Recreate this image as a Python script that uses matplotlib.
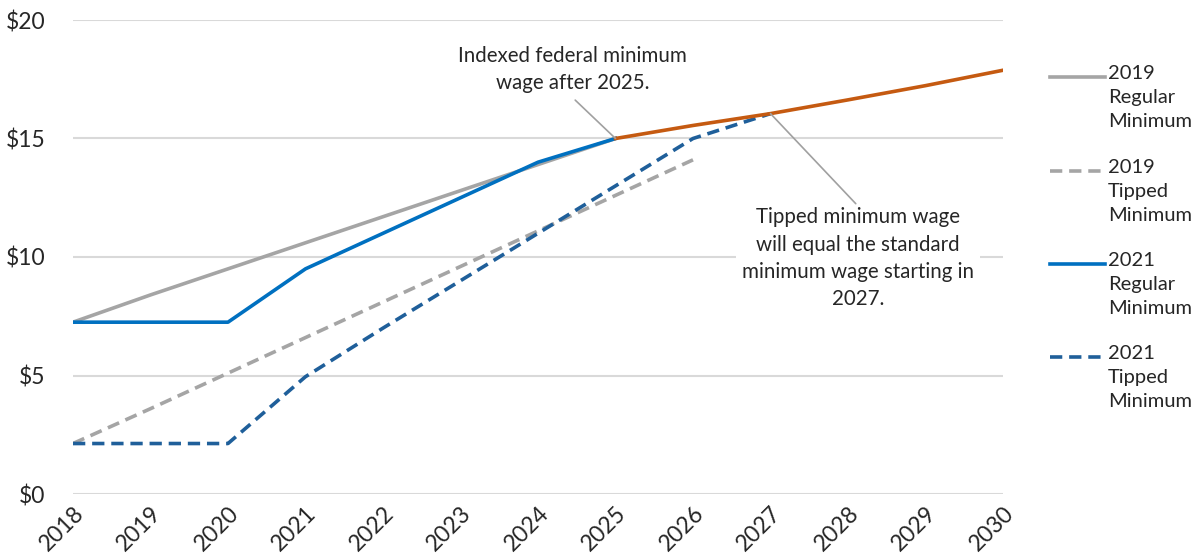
import matplotlib
matplotlib.use("Agg")
import matplotlib.pyplot as plt
from matplotlib.lines import Line2D

# ---- data ----
years = list(range(2018, 2031))
reg_2019_years = list(range(2018, 2026))
reg_2019 = [7.25, 8.40, 9.50, 10.60, 11.70, 12.80, 13.90, 15.00]
tip_2019_years = list(range(2018, 2027))
tip_2019 = [2.13, 3.60, 5.10, 6.60, 8.10, 9.60, 11.10, 12.60, 14.10]
reg_2021_years = list(range(2018, 2026))
reg_2021 = [7.25, 7.25, 7.25, 9.50, 11.00, 12.50, 14.00, 15.00]
tip_2021_years = list(range(2018, 2028))
tip_2021 = [2.13, 2.13, 2.13, 4.95, 7.00, 9.00, 11.00, 13.00, 15.00, 16.05]
indexed_years = list(range(2025, 2031))
indexed = [15.00, 15.55, 16.05, 16.63, 17.23, 17.88]
yticks = [0, 5, 10, 15, 20]
ytick_labels = ["$0", "$5", "$10", "$15", "$20"]
legend_labels = ["2019\nRegular\nMinimum", "2019\nTipped\nMinimum",
                 "2021\nRegular\nMinimum", "2021\nTipped\nMinimum"]

GRAY = "#a5a5a5"
BLUE = "#0070c0"
DBLUE = "#1f5f9a"
ORANGE = "#c55a11"
TXT = "#262626"
LEAD = "#a0a0a0"

plt.rcParams['font.family'] = ['Lato', 'DejaVu Sans']

fig = plt.figure(figsize=(11.93, 5.59), dpi=100)
ax = fig.add_axes([73/1193, 1-494/559, (1003-73)/1193, (494-20)/559])

lw = 2.6
dash = (3.4, 1.9)
styles = [
    dict(color=GRAY, lw=lw, ls='-'),
    dict(color=GRAY, lw=lw, ls=(0, dash)),
    dict(color=BLUE, lw=lw, ls='-'),
    dict(color=DBLUE, lw=lw, ls=(0, dash)),
]

ax.plot(tip_2019_years, tip_2019, zorder=3, dash_capstyle='butt', **styles[1])
ax.plot(reg_2019_years, reg_2019, zorder=3, **styles[0])
ax.plot(tip_2021_years, tip_2021, zorder=4, dash_capstyle='butt', **styles[3])
ax.plot(reg_2021_years, reg_2021, zorder=4, **styles[2])
ax.plot(indexed_years, indexed, color=ORANGE, lw=lw, zorder=5)

ax.set_xlim(2018, 2030)
ax.set_ylim(0, 20)
ax.set_yticks(yticks)
ax.set_yticklabels(ytick_labels)
ax.set_xticks(years)
ax.set_xticklabels([str(y) for y in years], rotation=45, ha='right',
                   rotation_mode='anchor')
ax.tick_params(axis='both', length=0, labelsize=16.5, colors=TXT)
ax.tick_params(axis='y', pad=20)
ax.tick_params(axis='x', pad=6)
ax.grid(axis='y', color='#d9d9d9', lw=1.5, zorder=0)
for s in ax.spines.values():
    s.set_visible(False)
ax.set_axisbelow(True)

# annotations
ax.text(2024.45, 17.9, "Indexed federal minimum\nwage after 2025.", ha='center',
        va='center', fontsize=14.8, color=TXT, linespacing=1.45, zorder=6)
ax.annotate("", xy=(2025, 15.0), xytext=(2024.48, 16.62),
            arrowprops=dict(arrowstyle='-', color=LEAD, lw=1.2,
                            shrinkA=0, shrinkB=0), zorder=6)
ax.text(2028.13, 9.95,
        "Tipped minimum wage\nwill equal the standard\nminimum wage starting in\n2027.",
        ha='center', va='center', fontsize=14.8, color=TXT, linespacing=1.45,
        bbox=dict(boxstyle='square,pad=0.3', fc='white', ec='none'), zorder=6)
ax.annotate("", xy=(2027, 16.05), xytext=(2028.1, 12.25),
            arrowprops=dict(arrowstyle='-', color=LEAD, lw=1.2,
                            shrinkA=0, shrinkB=0), zorder=6)

# legend (manual, multi-line labels aligned to first line)
entry_y = [77, 171, 264, 357]
for st, lab, yy in zip(styles, legend_labels, entry_y):
    yf = 1 - yy/559
    ln = Line2D([1050/1193, 1105/1193], [yf, yf], transform=fig.transFigure,
                dash_capstyle='butt', **st)
    fig.add_artist(ln)
    fig.text(1108/1193, 1 - (yy - 12)/559, lab, ha='left', va='top',
             fontsize=14.5, color=TXT, linespacing=1.5)

fig.savefig("out.png", dpi=100)
